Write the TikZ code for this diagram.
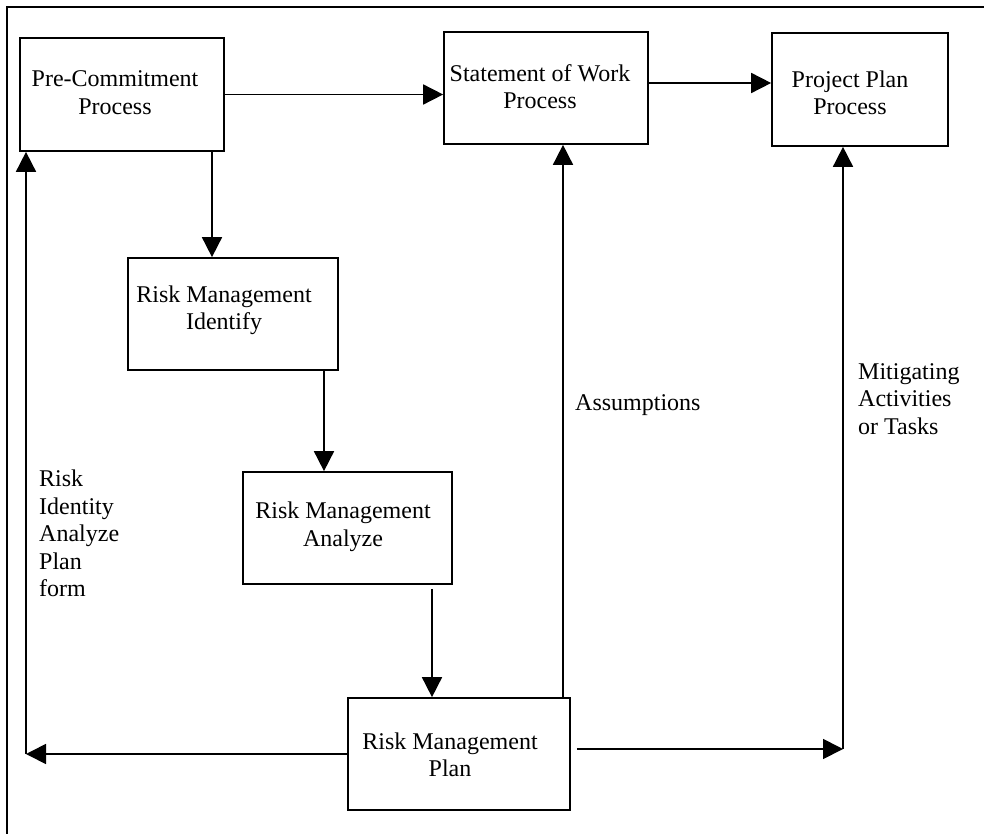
\documentclass[tikz,border=0pt]{standalone}
\usepackage{fontspec}
\setmainfont{Liberation Serif}
\usetikzlibrary{arrows.meta,calc}
\begin{document}
\begin{tikzpicture}[x=1pt,y=-1pt,
  every node/.style={font=\fontsize{24}{27.5}\selectfont},
  procbox/.style={draw=black,line width=1.7pt,rectangle,inner sep=0pt},
  boxtext/.style={align=center,inner sep=0pt},
  plaintext/.style={align=left,inner sep=0pt,anchor=west},
  arr/.style={draw=black,line width=1.7pt,-{Triangle[length=20pt,width=20pt]}},
  ln/.style={draw=black,line width=1.7pt},
  frame/.style={draw=black,line width=1.7pt}]
\useasboundingbox (0,0) rectangle (984,834);
\fill[white] (0,0) rectangle (984,834);
% frame (top and left edges visible)
\draw[frame] (7,834) -- (7,7) -- (984,7);
% boxes
\node[procbox,minimum width=204pt,minimum height=113pt] (pc) at (122,94.5) {};
\node[boxtext] (pct) at (115,92.5) {Pre-Commitment\\Process};
\node[procbox,minimum width=204pt,minimum height=112pt] (sow) at (546,88) {};
\node[boxtext] (sowt) at (540,86.5) {Statement of Work\\Process};
\node[procbox,minimum width=176pt,minimum height=113pt] (pp) at (860,89.5) {};
\node[boxtext] (ppt) at (850,93) {Project Plan\\Process};
\node[procbox,minimum width=210pt,minimum height=112pt] (rmi) at (233,314) {};
\node[boxtext] (rmit) at (224,310.5) {Risk Management\\Identify};
\node[procbox,minimum width=209pt,minimum height=112pt] (rma) at (347.5,528) {};
\node[boxtext] (rmat) at (343,527) {Risk Management\\Analyze};
\node[procbox,minimum width=222pt,minimum height=112pt] (rmp) at (459,754) {};
\node[boxtext] (rmpt) at (450,755) {Risk Management\\Plan};
% labels
\node[plaintext] (lrisk) at (39,533.5) {Risk\\Identity\\Analyze\\Plan\\form};
\node[plaintext] (lass) at (575,405) {Assumptions};
\node[plaintext] (lmit) at (858,399) {Mitigating\\Activities\\or Tasks};
% connectors
\draw[arr] (pc.east) -- (pc.east -| sow.west);
\draw[arr] ([yshift=5pt]sow.east) -- ([yshift=5pt]sow.east -| pp.west);
\draw[arr] ([xshift=90pt]pc.south) -- ([xshift=90pt]pc.south |- rmi.north);
\draw[arr] ([xshift=91pt]rmi.south) -- ([xshift=91pt]rmi.south |- rma.north);
\draw[arr] ([xshift=84.5pt,yshift=-4pt]rma.south) -- ([xshift=84.5pt]rma.south |- rmp.north);
\draw[arr] ([xshift=104pt]rmp.north) -- ([xshift=104pt]rmp.north |- sow.south);
\coordinate (cl) at (26,754);
\coordinate (cr) at (843,749);
\draw[arr] (rmp.west) -- (cl);
\draw[arr] (cl) -- (cl |- pc.south);
\draw[arr] ([xshift=6pt,yshift=5pt]rmp.east) -- (cr);
\draw[arr] (cr) -- (cr |- pp.south);
\end{tikzpicture}
\end{document}
